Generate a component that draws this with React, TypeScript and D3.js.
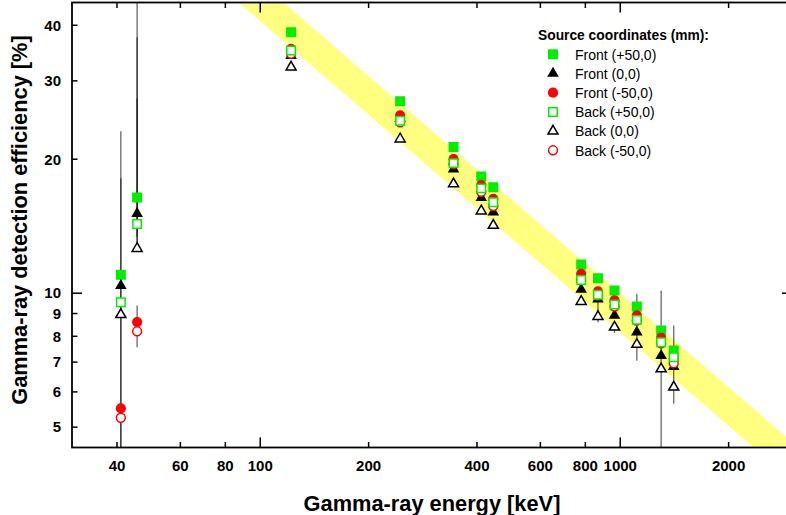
import React from "react";
import * as d3 from "d3";

// gamma-ray energies of the measured lines (keV)
const energies = [41.0, 45.5, 121.8, 244.7, 344.3, 411.1, 444.0, 778.9, 867.4, 964.1, 1112, 1299, 1408];

// detection efficiency [%] per source position
const frontP50 = [11.0, 16.4, 38.6, 27.0, 21.3, 18.3, 17.3, 11.6, 10.8, 10.14, 9.33, 8.24, 7.43];
const front0 = [10.4, 15.1, 34.2, 24.7, 19.0, 16.4, 15.2, 10.2, 9.7, 8.91, 8.17, 7.24, 6.84];
const frontM50 = [5.51, 8.61, 35.4, 25.1, 20.0, 17.5, 16.3, 11.05, 10.1, 9.63, 8.91, 7.94, 7.12];
const backP50 = [9.54, 14.3, 35.1, 24.4, 19.6, 17.2, 16.0, 10.7, 9.92, 9.43, 8.71, 7.76, 7.18];
const back0 = [8.95, 12.6, 32.2, 22.2, 17.6, 15.3, 14.2, 9.58, 8.86, 8.39, 7.67, 6.76, 6.15];
const backM50 = [5.25, 8.21, 34.5, 24.2, 19.5, 16.9, 15.7, 10.7, 9.88, 9.33, 8.68, 7.71, 6.96];

// error bars (energy, low, high)
const errorEnergy = [41.0, 41.0, 45.5, 45.5, 45.5, 45.5, 867.4, 964.1, 1112, 1299, 1408];
const errorLow = [4.0, 4.0, 12.7, 13.0, 13.4, 7.56, 8.6, 8.15, 7.05, 4.0, 5.64];
const errorHigh = [23.1, 18.1, 60, 37.6, 27.4, 9.38, 10.3, 8.6, 9.97, 10.14, 8.46];

// yellow band edges at the ends of the energy range
const bandEnergy = [30, 3000];
const bandLow = [94.8, 3.79];
const bandHigh = [115.8, 4.63];

const xTicks = [40, 60, 80, 100, 200, 400, 600, 800, 1000, 2000];
const yTicks = [5, 6, 7, 8, 9, 10, 20, 30, 40];
const legendTitle = "Source coordinates (mm):";

const series = [
  { name: "Front (+50,0)", values: frontP50, shape: "square", color: "#00ee00", filled: true },
  { name: "Front (0,0)", values: front0, shape: "triangle", color: "#000000", filled: true },
  { name: "Front (-50,0)", values: frontM50, shape: "circle", color: "#ff0000", filled: true },
  { name: "Back (+50,0)", values: backP50, shape: "square", color: "#00ee00", filled: false },
  { name: "Back (0,0)", values: back0, shape: "triangle", color: "#000000", filled: false },
  { name: "Back (-50,0)", values: backM50, shape: "circle", color: "#ff0000", filled: false },
];
// draw order: filled first, then open triangle, open circle, open square on top
const drawOrder = [0, 1, 2, 4, 5, 3];

const font = "'Liberation Sans', Arial, Helvetica, sans-serif";

const symbolPath = (shape, filled) => {
  const type = shape === "square" ? d3.symbolSquare : shape === "triangle" ? d3.symbolTriangle : d3.symbolCircle;
  let size = shape === "square" ? 100 : shape === "triangle" ? 58 : 82;
  if (!filled) size = shape === "square" ? 72 : shape === "triangle" ? 44 : 62;
  return d3.symbol().type(type).size(size)();
};

const Marker = ({ cx, cy, shape, color, filled }) => (
  <path
    d={symbolPath(shape, filled)}
    transform={`translate(${cx},${cy})`}
    fill={filled ? color : "white"}
    stroke={filled ? "none" : color}
    strokeWidth={filled ? 0 : 1.5}
  />
);

export default function App() {
  const width = 786, height = 515;
  const left = 72, right = 792, top = 2.5, bottom = 447.5;
  const x = d3.scaleLog().domain([30, 3000]).range([left, right]);
  const y = d3.scaleLog().domain([4.5, 45]).range([bottom, top]);

  const band = [
    [x(bandEnergy[0]), y(bandLow[0])],
    [x(bandEnergy[1]), y(bandLow[1])],
    [x(bandEnergy[1]), y(bandHigh[1])],
    [x(bandEnergy[0]), y(bandHigh[0])],
  ];

  const isMajor = (v) => Math.abs(Math.log10(v) - Math.round(Math.log10(v))) < 1e-9;

  return (
    <svg width={width} height={height} style={{ position: "absolute", left: 0, top: 0, background: "white" }} fontFamily={font}>
      <defs>
        <clipPath id="plot">
          <rect x={left} y={top} width={right - left} height={bottom - top} />
        </clipPath>
      </defs>

      <g clipPath="url(#plot)">
        <path d={d3.line()(band) + "Z"} fill="#ffff80" />
        {errorEnergy.map((e, i) => (
          <line key={i} x1={x(e)} x2={x(e)} y1={y(errorLow[i])} y2={y(errorHigh[i])} stroke="#000" strokeOpacity={0.6} strokeWidth={1.3} />
        ))}
        {drawOrder.map((si) => {
          const s = series[si];
          return (
            <g key={s.name}>
              {s.values.map((v, i) => (
                <Marker key={i} cx={x(energies[i])} cy={y(v)} shape={s.shape} color={s.color} filled={s.filled} />
              ))}
            </g>
          );
        })}
      </g>

      {/* frame */}
      <rect x={left} y={top} width={right - left} height={bottom - top} fill="none" stroke="#000" strokeWidth={1.8} />

      {/* x ticks, bottom and top */}
      {xTicks.map((t) => {
        const len = isMajor(t) ? 10 : 5.5;
        return (
          <g key={"x" + t}>
            <line x1={x(t)} x2={x(t)} y1={bottom} y2={bottom - len} stroke="#000" strokeWidth={1.5} />
            <line x1={x(t)} x2={x(t)} y1={top} y2={top + len} stroke="#000" strokeWidth={1.5} />
            <text x={x(t)} y={470.5} textAnchor="middle" fontSize={15} fontWeight="bold">{t}</text>
          </g>
        );
      })}

      {/* y ticks, left and right */}
      {yTicks.map((t) => {
        const len = isMajor(t) ? 10 : 5.5;
        return (
          <g key={"y" + t}>
            <line x1={left} x2={left + len} y1={y(t)} y2={y(t)} stroke="#000" strokeWidth={1.5} />
            <line x1={right} x2={right - len} y1={y(t)} y2={y(t)} stroke="#000" strokeWidth={1.5} />
            <text x={61} y={y(t) + 5.3} textAnchor="end" fontSize={15} fontWeight="bold">{t}</text>
          </g>
        );
      })}

      <text x={432} y={511} textAnchor="middle" fontSize={21.8} fontWeight="bold">Gamma-ray energy [keV]</text>
      <text transform="translate(27,220) rotate(-90)" textAnchor="middle" fontSize={21.8} fontWeight="bold">
        Gamma-ray detection efficiency [%]
      </text>

      {/* legend */}
      <text x={538} y={40} fontSize={13.8} fontWeight="bold">{legendTitle}</text>
      {series.map((s, i) => {
        const cy = 54.3 + i * 19.2;
        return (
          <g key={"leg" + i}>
            <Marker cx={553} cy={cy} shape={s.shape} color={s.color} filled={s.filled} />
            <text x={575} y={cy + 5.2} fontSize={14}>{s.name}</text>
          </g>
        );
      })}
    </svg>
  );
}
